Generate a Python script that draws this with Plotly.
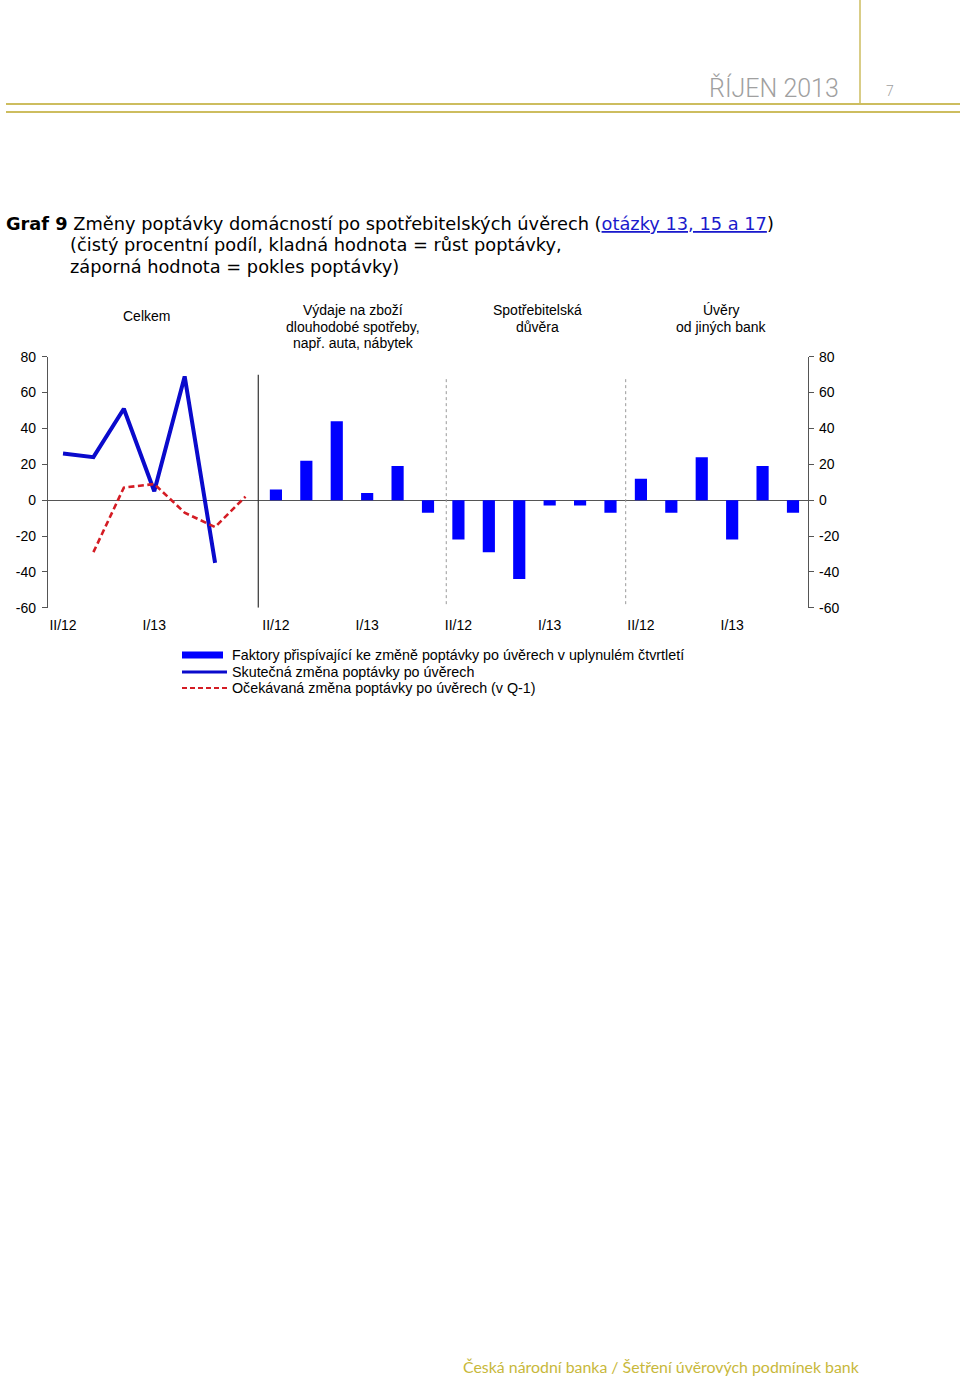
import plotly.graph_objects as go

W, H = 960, 1376

# ---------------- data ----------------
quarters = ["II/12", "III/12", "IV/12", "I/13", "II/13", "III/13", "IV/13"]
shown_ticks = ["II/12", "I/13"]

celkem_actual = [26, 24, 51, 5, 69, -35, None]
celkem_expected = [None, -29, 7, 9, -7, -15, 2]

vydaje = [6, 22, 44, 4, 19, -7]
duvera = [-22, -29, -44, -3, -3, -7]
jine_banky = [12, -7, 24, -22, 19, -7]

group_titles = [
    ["Celkem"],
    ["Výdaje na zboží", "dlouhodobé spotřeby,", "např. auta, nábytek"],
    ["Spotřebitelská", "důvěra"],
    ["Úvěry", "od jiných bank"],
]
legend_names = [
    "Faktory přispívající ke změně poptávky po úvěrech v uplynulém čtvrtletí",
    "Skutečná změna poptávky po úvěrech",
    "Očekávaná změna poptávky po úvěrech (v Q-1)",
]
y_ticks = [80, 60, 40, 20, 0, -20, -40, -60]

# ---------------- positions on a shared category axis ----------------
n_celkem = len(quarters)
bar_groups = [vydaje, duvera, jine_banky]
offsets = [0]
start = n_celkem
for g in bar_groups:
    offsets.append(start)
    start += len(g)
n_total = start

x_celkem = list(range(n_celkem))
bar_x, bar_y = [], []
for off, g in zip(offsets[1:], bar_groups):
    bar_x += [off + i for i in range(len(g))]
    bar_y += g

tickvals, ticktext = [], []
group_sizes = [n_celkem] + [len(g) for g in bar_groups]
for off, size in zip(offsets, group_sizes):
    for i in range(size):
        if quarters[i] in shown_ticks:
            tickvals.append(off + i)
            ticktext.append(quarters[i])

FONT = "Liberation Sans, Arial, sans-serif"
BLUE_BAR = "#0000ff"
BLUE_LINE = "#0a0acc"
RED = "#d41c24"
GOLD = "#cdbd5f"

fig = go.Figure()

fig.add_trace(go.Bar(x=bar_x, y=bar_y, marker=dict(color=BLUE_BAR, line=dict(width=0)),
                     width=0.4, name=legend_names[0], showlegend=False))
fig.add_trace(go.Scatter(x=x_celkem, y=celkem_actual, mode="lines", name=legend_names[1],
                         line=dict(color=BLUE_LINE, width=4), connectgaps=False, showlegend=False))
fig.add_trace(go.Scatter(x=x_celkem, y=celkem_expected, mode="lines", name=legend_names[2],
                         line=dict(color=RED, width=2.6, dash="6px,3.5px"), connectgaps=False,
                         showlegend=False))
fig.add_trace(go.Scatter(x=[None], y=[None], yaxis="y2", showlegend=False, hoverinfo="skip"))


def px(x):
    return x / W


def py(y):
    # page pixel (from top) -> paper fraction, compensating the capture's vertical mapping
    return 1 - ((y - 8.0) / 0.9883) / H


y_top_px, y_bot_px = 356.7, 607.7
x_left_px, x_right_px = 47.8, 808.2

fig.update_layout(
    width=W, height=H,
    margin=dict(l=0, r=0, t=0, b=0),
    paper_bgcolor="white", plot_bgcolor="white",
    font=dict(family=FONT, size=14, color="black"),
    xaxis=dict(domain=[px(x_left_px), px(x_right_px)], range=[-0.5, n_total - 0.5],
               tickmode="array", tickvals=tickvals, ticktext=ticktext,
               showgrid=False, zeroline=False, showline=False, ticks="",
               ticklabelstandoff=7,
               tickfont=dict(size=14, family=FONT, color="black")),
    yaxis=dict(domain=[py(y_bot_px), py(y_top_px)], range=[-60, 80],
               tickmode="array", tickvals=y_ticks, ticktext=[str(v) for v in y_ticks],
               showgrid=False, zeroline=True, zerolinecolor="#555555", zerolinewidth=1,
               showline=True, linecolor="#555555", linewidth=1,
               ticks="outside", ticklen=5, tickcolor="#555555", ticklabelstandoff=3,
               tickfont=dict(size=14, family=FONT, color="black")),
    yaxis2=dict(domain=[py(y_bot_px), py(y_top_px)], range=[-60, 80], overlaying="y", side="right",
                anchor="x",
                tickmode="array", tickvals=y_ticks, ticktext=[str(v) for v in y_ticks],
                showgrid=False, zeroline=False,
                showline=True, linecolor="#555555", linewidth=1,
                ticks="outside", ticklen=5, tickcolor="#555555", ticklabelstandoff=2,
                tickfont=dict(size=14, family=FONT, color="black")),
    showlegend=False,
)

sep_specs = [(6.42, "solid", "#333333", 1.2, -60, 70), (12.6, "dot", "#999999", 1, -58, 69),
             (18.5, "dot", "#999999", 1, -58, 69)]
for xv, dash, col, wd, y0, y1 in sep_specs:
    fig.add_shape(type="line", xref="x", yref="y", x0=xv, x1=xv, y0=y0, y1=y1,
                  line=dict(color=col, width=wd, dash=dash))

fig.add_shape(type="line", xref="paper", yref="paper", x0=px(6), x1=1, y0=py(104), y1=py(104),
              line=dict(color=GOLD, width=2))
fig.add_shape(type="line", xref="paper", yref="paper", x0=px(6), x1=1, y0=py(112), y1=py(112),
              line=dict(color=GOLD, width=2))
fig.add_shape(type="line", xref="paper", yref="paper", x0=px(860), x1=px(860), y0=py(0), y1=py(104),
              line=dict(color=GOLD, width=1.5))


def ann(text, x, y, size, color="black", family=FONT, xanchor="left", weight=None, **kw):
    f = dict(size=size, color=color, family=family)
    if weight is not None:
        f["weight"] = weight
    fig.add_annotation(text=text, x=px(x), y=py(y), xref="paper", yref="paper",
                       xanchor=xanchor, yanchor="middle", showarrow=False, font=f, **kw)


leg_rows = [655, 672, 688]
leg_ends = [223, 227, 228]
leg_styles = [dict(color=BLUE_BAR, width=7), dict(color=BLUE_LINE, width=3),
              dict(color=RED, width=2, dash="5px,3px")]
for name, yy, xe, st in zip(legend_names, leg_rows, leg_ends, leg_styles):
    fig.add_shape(type="line", xref="paper", yref="paper", x0=px(182), x1=px(xe),
                  y0=py(yy), y1=py(yy), line=st)
    ann(name, 230, yy, 14.3)

ann("ŘÍJEN 2013", 707, 88, 25, color="#a0a0a0", family="Roboto, sans-serif", weight=300)
ann("7", 884, 91, 14, color="#a0a0a0", family="Roboto, sans-serif", weight=300)

TF = "DejaVu Sans, Verdana, sans-serif"
ann("<b>Graf 9</b> Změny poptávky domácností po spotřebitelských úvěrech "
    "(<span style='color:#1a1acc;text-decoration:underline'>otázky 13, 15 a 17</span>)",
    4, 223, 17.8, family=TF)
ann("(čistý procentní podíl, kladná hodnota = růst poptávky,", 68, 244, 17.8, family=TF)
ann("záporná hodnota = pokles poptávky)", 68, 266, 17.8, family=TF)

title_centers = [146, 353, 537, 721]
title_tops = [316, 310, 310, 310]
for lines, cx, ty in zip(group_titles, title_centers, title_tops):
    for i, t in enumerate(lines):
        ann(t, cx, ty + i * 16.5, 14, xanchor="center")

ann("Česká národní banka / Šetření úvěrových podmínek bank", 861, 1366, 15.9, color="#c8b83a",
    family="Lato, Roboto, sans-serif", xanchor="right")

fig.write_html("out.html", config={"displayModeBar": False},
               post_script="document.documentElement.style.margin='0';"
                           "document.body.style.margin='0';document.body.style.padding='0';"
                           "document.body.style.overflow='hidden';")
